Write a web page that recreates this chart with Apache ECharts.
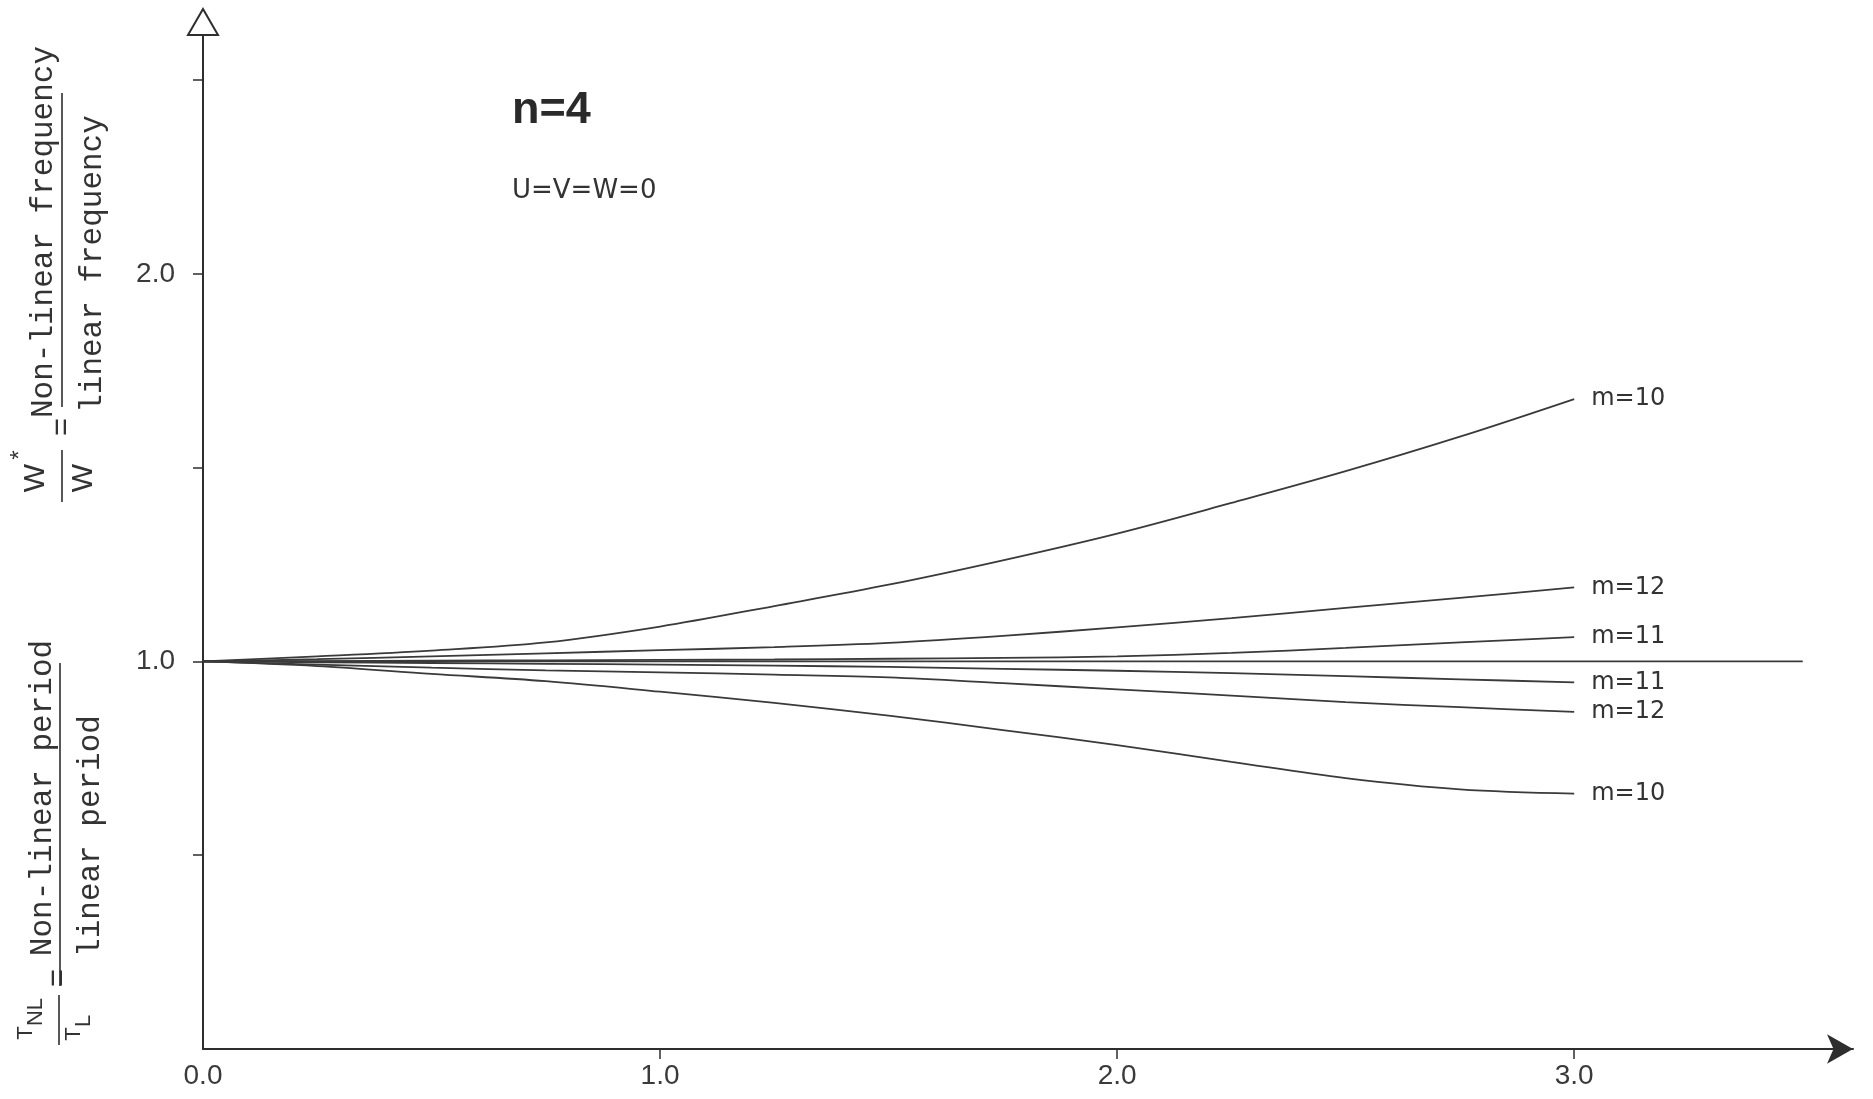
<!DOCTYPE html>
<html>
<head>
<meta charset="utf-8">
<script src="https://cdn.jsdelivr.net/npm/echarts@6/dist/echarts.min.js"></script>
<style>
  html, body { margin: 0; padding: 0; background: #ffffff; }
  #chart { width: 1873px; height: 1099px; }
</style>
</head>
<body>
<div id="chart"></div>
<script>
// Amplitude values along the horizontal axis
const amplitude = [0, 0.25, 0.5, 0.75, 1.0, 1.25, 1.5, 1.75, 2.0, 2.25, 2.5, 2.75, 3.0];

// Frequency ratio branches (above 1.0) and period ratio branches (below 1.0)
const m10Upper = [1.000, 1.013, 1.028, 1.049, 1.090, 1.143, 1.198, 1.261, 1.330, 1.409, 1.491, 1.580, 1.677];
const m12Upper = [1.000, 1.006, 1.013, 1.021, 1.029, 1.037, 1.048, 1.066, 1.088, 1.112, 1.138, 1.164, 1.191];
const m11Upper = [1.000, 1.001, 1.002, 1.003, 1.004, 1.005, 1.007, 1.009, 1.013, 1.022, 1.035, 1.049, 1.063];
const m11Lower = [1.000, 0.998, 0.996, 0.994, 0.992, 0.989, 0.986, 0.981, 0.976, 0.970, 0.962, 0.954, 0.946];
const m12Lower = [1.000, 0.992, 0.984, 0.977, 0.972, 0.966, 0.959, 0.944, 0.928, 0.912, 0.895, 0.882, 0.870];
const m10Lower = [1.000, 0.988, 0.968, 0.949, 0.922, 0.893, 0.860, 0.823, 0.784, 0.741, 0.699, 0.670, 0.659];

const curveLabels = ['m=10', 'm=12', 'm=11', 'm=11', 'm=12', 'm=10'];
const curveValues = [m10Upper, m12Upper, m11Upper, m11Lower, m12Lower, m10Lower];

// Linear reference level
const referenceX = [0, 3.5];
const referenceY = [1.0, 1.0];

// Axis ticks and labels
const xTickValues = [1, 2, 3];
const xLabelValues = [0, 1, 2, 3];
const yTickValues = [0.5, 1.0, 1.5, 2.0, 2.5];
const yLabelValues = [1.0, 2.0];

const ink = '#333333';
const mono = '"Liberation Mono", "DejaVu Sans Mono", monospace';
const sans = '"Liberation Sans", Arial, sans-serif';

const chart = echarts.init(document.getElementById('chart'), null, { renderer: 'canvas' });

const curveSeries = curveValues.map((vals, k) => ({
  type: 'line',
  name: curveLabels[k],
  data: amplitude.map((x, i) => [x, vals[i]]),
  smooth: 0.35,
  showSymbol: false,
  symbol: 'none',
  lineStyle: { color: '#3a3a3a', width: 1.8 },
  endLabel: {
    show: true,
    formatter: curveLabels[k],
    distance: 17,
    color: ink,
    fontFamily: '"DejaVu Sans", sans-serif',
    fontSize: 24
  },
  z: 3
}));

const referenceSeries = {
  type: 'line',
  name: 'linear',
  data: referenceX.map((x, i) => [x, referenceY[i]]),
  showSymbol: false,
  symbol: 'none',
  lineStyle: { color: '#3a3a3a', width: 1.8 },
  z: 2
};

function txt(u, v, text, font) {
  return {
    type: 'text', x: u, y: v,
    style: { text: text, font: font, fill: ink, align: 'center', verticalAlign: 'middle' }
  };
}
function bar(u1, u2, v) {
  return {
    type: 'line',
    shape: { x1: u1, y1: v, x2: u2, y2: v },
    style: { stroke: '#2e2e2e', lineWidth: 1.6 }
  };
}

chart.setOption({
  animation: false,
  backgroundColor: '#ffffff',
  grid: { left: 203, right: 20, top: 22, bottom: 50, containLabel: false },
  xAxis: {
    type: 'value',
    min: 0,
    max: 3.61,
    splitLine: { show: false },
    axisLine: {
      show: true,
      symbol: ['none', 'arrow'],
      symbolSize: [22, 26],
      lineStyle: { color: '#2e2e2e', width: 2 }
    },
    axisTick: { show: true, customValues: xTickValues, length: 10, inside: false,
      lineStyle: { color: '#2e2e2e', width: 1.5 } },
    axisLabel: {
      customValues: xLabelValues,
      formatter: v => v.toFixed(1),
      margin: 13,
      color: '#3a3a3a',
      fontFamily: sans,
      fontSize: 28
    }
  },
  yAxis: {
    type: 'value',
    min: 0,
    max: 2.65,
    splitLine: { show: false },
    axisLine: {
      show: true,
      symbol: ['none', 'emptyTriangle'],
      symbolSize: [30, 26],
      lineStyle: { color: '#2e2e2e', width: 2 }
    },
    axisTick: { show: true, customValues: yTickValues, length: 10, inside: false,
      lineStyle: { color: '#2e2e2e', width: 1.5 } },
    axisLabel: {
      customValues: yLabelValues,
      formatter: v => v.toFixed(1),
      margin: 28,
      color: '#3a3a3a',
      fontFamily: sans,
      fontSize: 28
    }
  },
  graphic: [
    // n = 4 heading and boundary condition note
    { type: 'text', left: 512, top: 88,
      style: { text: 'n=4', font: 'bold 45px ' + sans, fill: '#2a2a2a' } },
    { type: 'text', left: 512, top: 178,
      style: { text: 'U=V=W=0', font: '26px "DejaVu Sans", sans-serif', fill: ink } },
    // Frequency ratio title, written upwards
    {
      type: 'group', x: 62, y: 500, rotation: Math.PI / 2,
      children: [
        bar(-2, 50, 0),
        txt(22, -26, 'W', '30px ' + sans),
        txt(45, -42, '*', '24px ' + sans),
        txt(22, 22, 'W', '30px ' + sans),
        txt(73, 1, '=', '31px ' + mono),
        bar(93, 407, 0),
        txt(268, -18, 'Non-linear frequency', '31px ' + mono),
        txt(236, 31, 'linear frequency', '31px ' + mono)
      ]
    },
    // Period ratio title, written upwards
    {
      type: 'group', x: 60, y: 1050, rotation: Math.PI / 2,
      children: [
        bar(5, 55, -1),
        txt(17, -34, 'T', '22px ' + sans),
        txt(38, -24, 'NL', '22px ' + sans),
        txt(16, 14, 'T', '22px ' + sans),
        txt(29, 24, 'L', '22px ' + sans),
        txt(72, -1, '=', '31px ' + mono),
        bar(64, 387, 0),
        txt(252, -17, 'Non-linear period', '31px ' + mono),
        txt(214, 31, 'linear period', '31px ' + mono)
      ]
    }
  ],
  series: [referenceSeries].concat(curveSeries)
});
</script>
</body>
</html>
